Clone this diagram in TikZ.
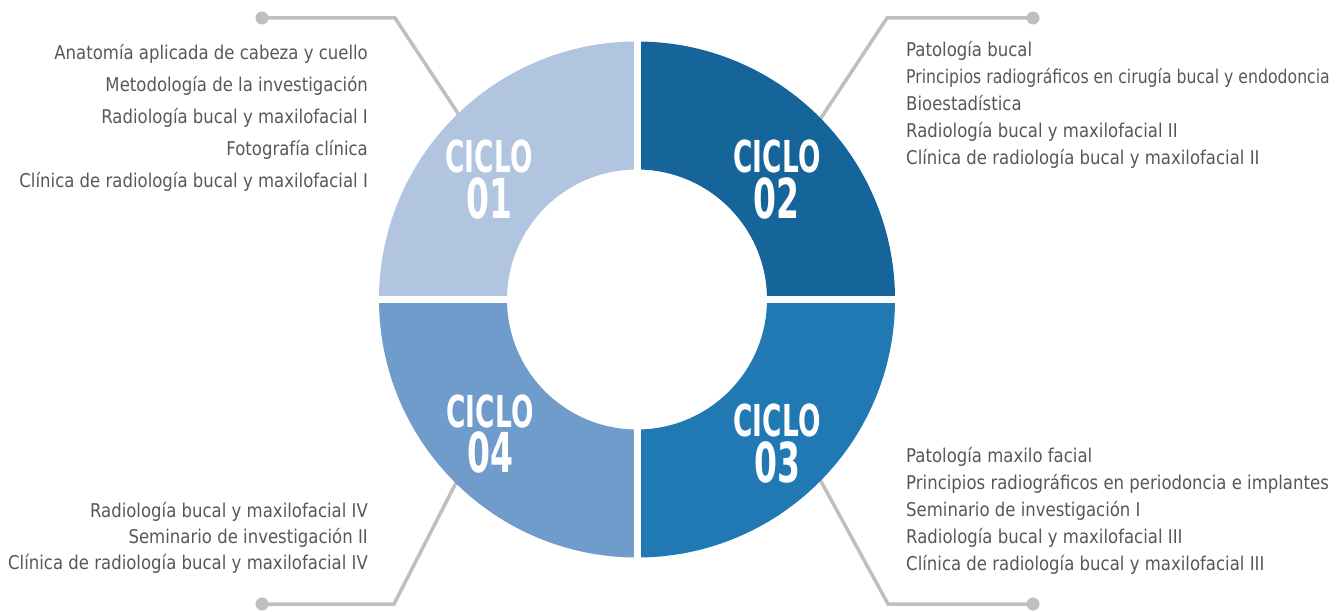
\documentclass[tikz,border=0pt]{standalone}
\usepackage{fontspec}
\setmainfont{DejaVu Sans}
\newfontfamily\listfont[FakeStretch=0.87]{DejaVu Sans}
\newfontfamily\ciclofont[FakeStretch=0.6]{DejaVu Sans}
\usetikzlibrary{calc}
\definecolor{ringA}{HTML}{B1C4E0}
\definecolor{ringB}{HTML}{16659A}
\definecolor{ringC}{HTML}{2179B4}
\definecolor{ringD}{HTML}{6F9CCA}
\definecolor{lineg}{HTML}{BFBFBF}
\definecolor{textg}{HTML}{575757}

\begin{document}
\begin{tikzpicture}[x=1pt,y=1pt,
  conn/.style={draw=lineg,line width=3.5pt},
  dot/.style={circle,fill=lineg,inner sep=0pt,minimum size=13pt},
  course/.style={text=textg,inner sep=0pt,font=\listfont\fontsize{19}{#1}\selectfont},
  cword/.style={text=white,inner sep=0pt,text height=32pt,text depth=0pt,
    font=\ciclofont\bfseries\fontsize{44}{44}\selectfont},
  cnum/.style={text=white,inner sep=0pt,text height=40pt,text depth=0pt,
    font=\ciclofont\bfseries\fontsize{55}{55}\selectfont}]
  \useasboundingbox (0,0) rectangle (1343,611);
  \coordinate (o) at (637,311.5);

  % connectors
  \node[dot] (d1) at (262,593) {};
  \node[dot] (d2) at (1033,593) {};
  \node[dot] (d3) at (1033,7) {};
  \node[dot] (d4) at (262,7) {};
  \coordinate (k1) at (395,593);
  \coordinate (k2) at (887,593);
  \coordinate (k3) at (888,7);
  \coordinate (k4) at (394,7);
  \coordinate (e1) at (463,490);
  \coordinate (e2) at (819,490);
  \coordinate (e3) at (817,137);
  \coordinate (e4) at (461,138);
  \foreach \i in {1,...,4}
    \draw[conn] (d\i.center) -- (k\i) -- (e\i);

  % ring
  \foreach \a/\c in {90/ringA,0/ringB,270/ringC,180/ringD}
    \fill[\c] ($(o)+(\a:258)$) arc[start angle=\a,end angle=\a+90,radius=258]
      -- ($(o)+(\a+90:130)$) arc[start angle=\a+90,end angle=\a,radius=130] -- cycle;
  \draw[white,line width=7pt] ($(o)+(-262,0)$) -- ($(o)+(262,0)$);
  \draw[white,line width=7pt] ($(o)+(0,-262)$) -- ($(o)+(0,262)$);

  \node[cword] (w1) at (489,454.5) {CICLO};
  \node[cnum] (n1) at (489,412) {01};
  \node[cword] (w2) at (777,454.5) {CICLO};
  \node[cnum] (n2) at (776,412) {02};
  \node[cword] (w3) at (777,191) {CICLO};
  \node[cnum] (n3) at (777,148.5) {03};
  \node[cword] (w4) at (490,200) {CICLO};
  \node[cnum] (n4) at (490,158.5) {04};

  % course lists
  \node[course=32,anchor=north east,align=right] (l1) at (368,567) {Anatomía aplicada de cabeza y cuello\\
    Metodología de la investigación\\Radiología bucal y maxilofacial I\\Fotografía clínica\\
    Clínica de radiología bucal y maxilofacial I};
  \node[course=27,anchor=north west,align=left] (l2) at (906,570) {Patología bucal\\
    \scalebox{0.95}[1]{Principios radiográficos en cirugía bucal y endodoncia}\\Bioestadística\\
    Radiología bucal y maxilofacial II\\Clínica de radiología bucal y maxilofacial II};
  \node[course=26.8,anchor=north west,align=left] (l3) at (906,163.5) {Patología maxilo facial\\
    Principios radiográficos en periodoncia e implantes\\Seminario de investigación I\\
    Radiología bucal y maxilofacial III\\Clínica de radiología bucal y maxilofacial III};
  \node[course=26,anchor=north east,align=right] (l4) at (368,109) {Radiología bucal y maxilofacial IV\\
    Seminario de investigación II\\Clínica de radiología bucal y maxilofacial IV};
\end{tikzpicture}
\end{document}
